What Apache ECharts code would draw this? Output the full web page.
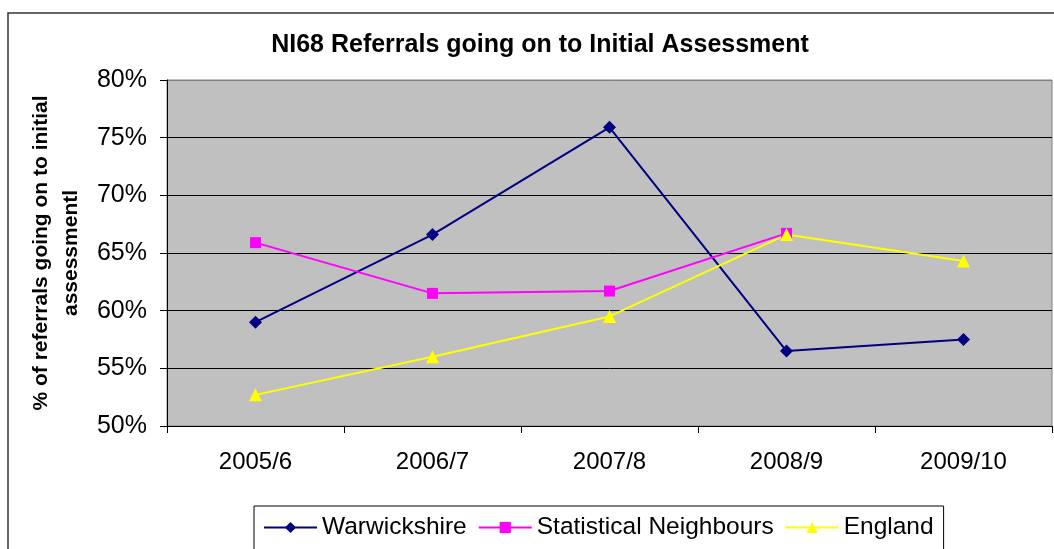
<!DOCTYPE html>
<html>
<head>
<meta charset="utf-8">
<script src="https://cdn.jsdelivr.net/npm/echarts@6/dist/echarts.min.js"></script>
<style>
  html, body { margin: 0; padding: 0; background: #fff; }
  #chart { width: 1054px; height: 549px; }
</style>
</head>
<body>
<div id="chart"></div>
<script>
// Financial years on the category axis
const years = ['2005/6', '2006/7', '2007/8', '2008/9', '2009/10'];

// Share of referrals going on to initial assessment (%)
const warwickshire = [59.0, 66.6, 75.9, 56.5, 57.5];
const statNeighbours = [65.9, 61.5, 61.7, 66.7, null];
const england = [52.7, 56.0, 59.5, 66.6, 64.3];

// Value axis range and step (%)
const yMin = 50;
const yMax = 80;
const yStep = 5;

const chart = echarts.init(document.getElementById('chart'), null, { renderer: 'canvas' });

const font = 'Arial, "Liberation Sans", sans-serif';

chart.setOption({
  backgroundColor: '#ffffff',
  animation: false,
  title: {
    text: 'NI68 Referrals going on to Initial Assessment',
    left: 535,
    textAlign: 'center',
    top: 28,
    textStyle: { fontFamily: font, fontSize: 25, fontWeight: 'bold', color: '#000' }
  },
  graphic: [{
    type: 'rect',
    shape: { x: 8, y: 13, width: 1100, height: 600 },
    style: { fill: 'none', stroke: '#333', lineWidth: 1.5 },
    silent: true,
    z: -1
  }],
  legend: {
    left: 254,
    top: 506,
    itemGap: 11,
    itemWidth: 53,
    itemHeight: 14,
    padding: [9, 10, 30, 9],
    borderColor: '#000',
    borderWidth: 1,
    textStyle: { fontFamily: font, fontSize: 24.5, color: '#000' },
    data: ['Warwickshire', 'Statistical Neighbours', 'England']
  },
  grid: {
    left: 167,
    right: 2,
    top: 80,
    bottom: 123,
    show: true,
    backgroundColor: '#c0c0c0',
    borderColor: '#808080',
    borderWidth: 1
  },
  xAxis: {
    type: 'category',
    data: years,
    boundaryGap: true,
    axisLine: { lineStyle: { color: '#000', width: 1 } },
    axisTick: { show: true, interval: 0, length: 7, lineStyle: { color: '#000' } },
    axisLabel: { fontFamily: font, fontSize: 24, color: '#000', margin: 24 }
  },
  yAxis: {
    type: 'value',
    min: yMin,
    max: yMax,
    interval: yStep,
    name: '% of referrals going on to initial\nassessmentl',
    nameLocation: 'middle',
    nameRotate: 90,
    nameGap: 79,
    nameTextStyle: { fontFamily: font, fontSize: 21, fontWeight: 'bold', color: '#000', lineHeight: 30 },
    axisLine: { show: true, lineStyle: { color: '#000', width: 1 } },
    axisTick: { show: true, length: 7, lineStyle: { color: '#000' } },
    axisLabel: { fontFamily: font, fontSize: 25, color: '#000', margin: 20, formatter: '{value}%' },
    splitLine: {
      show: true,
      lineStyle: { color: ['#000', '#000', '#000', '#000', '#000', '#000', '#808080'], width: 1 }
    }
  },
  series: [
    {
      name: 'Warwickshire',
      type: 'line',
      data: warwickshire,
      symbol: 'diamond',
      symbolSize: 13,
      itemStyle: { color: '#000080' },
      lineStyle: { color: '#000080', width: 2 }
    },
    {
      name: 'Statistical Neighbours',
      type: 'line',
      data: statNeighbours,
      symbol: 'rect',
      symbolSize: 11,
      itemStyle: { color: '#ff00ff' },
      lineStyle: { color: '#ff00ff', width: 2 }
    },
    {
      name: 'England',
      type: 'line',
      data: england,
      symbol: 'triangle',
      symbolSize: 13,
      itemStyle: { color: '#ffff00' },
      lineStyle: { color: '#ffff00', width: 2 }
    }
  ]
});
</script>
</body>
</html>
